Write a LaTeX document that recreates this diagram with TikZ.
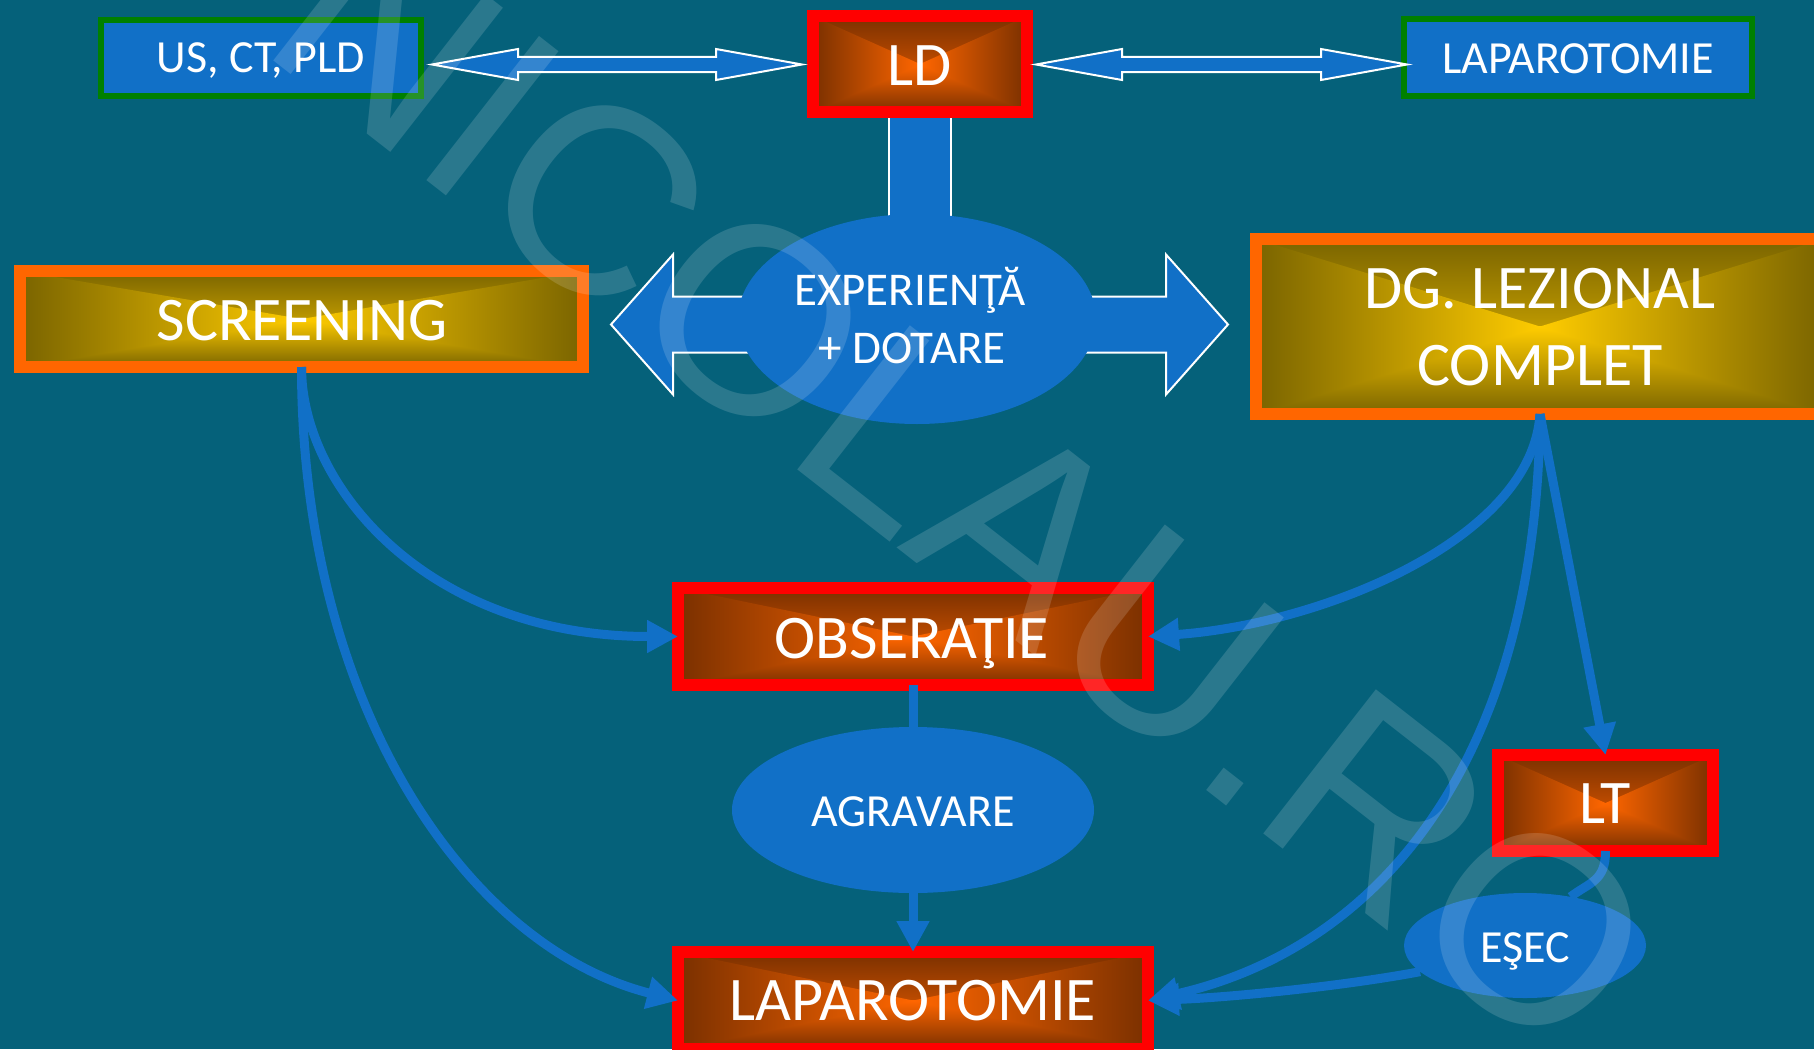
\documentclass[tikz,border=0pt]{standalone}
\usepackage{fontspec}
\setmainfont{Carlito}
\newfontfamily\wmfont{Liberation Sans}
\usetikzlibrary{calc,arrows.meta,shapes.geometric}
\pgfdeclarelayer{bg}\pgfdeclarelayer{back}\pgfdeclarelayer{front}
\pgfsetlayers{bg,back,main,front}
\definecolor{bgteal}{RGB}{5,97,122}
\definecolor{sblue}{RGB}{17,112,199}
\definecolor{gborder}{RGB}{0,128,0}
\definecolor{oborder}{RGB}{255,102,0}
\definecolor{brownout}{RGB}{122,48,0}
\definecolor{orangein}{RGB}{255,102,0}
\definecolor{oliveout}{RGB}{122,100,0}
\definecolor{yellowin}{RGB}{255,204,0}
\newcommand\lrarrow[5]{%
  \draw[outl] (#1) -- ($(#1)+(#3,-#4)$) -- ($(#1)+(#3,-#5)$) -- ($(#2)+(-#3,-#5)$)
    -- ($(#2)+(-#3,-#4)$) -- (#2) -- ($(#2)+(-#3,#4)$) -- ($(#2)+(-#3,#5)$)
    -- ($(#1)+(#3,#5)$) -- ($(#1)+(#3,#4)$) -- cycle;}
\begin{document}
\begin{tikzpicture}[x=1pt,y=-1pt,
  rgrad/.style 2 args={fill=#2, path picture={
    \shade[top color=#1,bottom color=#2] (path picture bounding box.north west) rectangle (path picture bounding box.east);
    \shade[top color=#2,bottom color=#1] (path picture bounding box.west) rectangle (path picture bounding box.south east);
    \shade[left color=#1,right color=#2] (path picture bounding box.north west) -- (path picture bounding box.south west) -- (path picture bounding box.center) -- cycle;
    \shade[left color=#2,right color=#1] (path picture bounding box.north east) -- (path picture bounding box.south east) -- (path picture bounding box.center) -- cycle;
  }},
  box/.style={rectangle, inner sep=0pt, outer sep=0pt},
  bluebox/.style={box, fill=sblue, draw=gborder, line width=6pt},
  redbox/.style={box, draw=red, line width=12pt, rgrad={brownout}{orangein}},
  ylwbox/.style={box, draw=oborder, line width=12pt, rgrad={oliveout}{yellowin}},
  oval/.style={ellipse, fill=sblue, inner sep=0pt, outer sep=0pt},
  big/.style={text=white, font=\fontsize{62}{70}\selectfont, inner sep=0pt, anchor=base},
  small/.style={text=white, font=\fontsize{46}{52}\selectfont, inner sep=0pt, anchor=base},
  conn/.style={draw=sblue, line width=9pt},
  arr/.style={conn, -{Triangle[length=31pt,width=31pt]}},
  outl/.style={draw=white, line width=2pt, fill=sblue, line join=miter},
  wm/.style={text=white, text opacity=0.15, font=\fontsize{266}{266}\wmfont, inner sep=0pt, anchor=base west, rotate=-38}
]
\useasboundingbox (0,0) rectangle (1814,1049);
\begin{pgfonlayer}{bg}
  \fill[bgteal] (0,0) rectangle (1814,1049);
\end{pgfonlayer}

% boxes
\node[bluebox, minimum width=320, minimum height=76] (uspld) at (261,58) {};
\node[redbox, minimum width=214, minimum height=96] (ld) at (920,64) {};
\node[bluebox, minimum width=348, minimum height=77] (laptop) at (1578,57.5) {};
\node[ylwbox, minimum width=563, minimum height=96] (screening) at (301.5,319) {};
\node[ylwbox, minimum width=568, minimum height=175] (dg) at (1540,326.5) {};
\node[redbox, minimum width=470, minimum height=97] (obs) at (913,636.5) {};
\node[redbox, minimum width=470, minimum height=97] (lap) at (913,1000.5) {};
\node[redbox, minimum width=215, minimum height=96] (lt) at (1605.5,803) {};
% ellipses
\node[oval, minimum width=358, minimum height=210] (exp) at (917,319) {};
\node[oval, minimum width=362, minimum height=166] (agr) at (913,810) {};
\node[oval, minimum width=242, minimum height=105] (esec) at (1525,945.5) {};

% stem and big double arrow behind the ellipse
\begin{pgfonlayer}{back}
  \coordinate (stl) at ($(ld.south)+(-31,6)$);
  \coordinate (str) at ($(ld.south)+(31,6)$);
  \fill[sblue] (stl) rectangle ($(str)+(0,140)$);
  \draw[white, line width=2pt] (stl) -- ($(stl)+(0,140)$) (str) -- ($(str)+(0,140)$);
  \coordinate (bl) at (611,324.5);
  \coordinate (br) at (1228,324.5);
  \lrarrow{bl}{br}{62}{70}{28}
\end{pgfonlayer}

% top double arrows
\coordinate (a1l) at ($(uspld.east |- ld.center)+(11,0.5)$);
\coordinate (a1r) at ($(ld.west)+(-11,0.5)$);
\lrarrow{a1l}{a1r}{86}{15.5}{7.5}
\coordinate (a2l) at ($(ld.east)+(9,0.5)$);
\coordinate (a2r) at ($(laptop.west |- ld.center)+(3,0.5)$);
\lrarrow{a2l}{a2r}{86}{15.5}{7.5}

% texts
\node[small] (t1) at (261,73) {US, CT, PLD};
\node[big] (t2) at (920,85) {LD};
\node[small] (t3) at (1578,74) {LAPAROTOMIE};
\node[big] (t4) at (302,340) {SCREENING};
\node[big] (t5) at (1540,308) {DG. LEZIONAL};
\node[big] (t6) at (1540,385) {COMPLET};
\node[small, font=\fontsize{47}{52}\selectfont] (t7) at (910,305) {EXPERIENŢĂ};
\node[small, font=\fontsize{47}{52}\selectfont] (t8) at (912,363) {+ DOTARE};
\node[big] (t9) at (912,658) {OBSERAŢIE};
\node[small] (t10) at (913,826) {AGRAVARE};
\node[big] (t11) at (913,1020) {LAPAROTOMIE};
\node[big] (t12) at (1605,823) {LT};
\node[small] (t13) at (1525,962) {EŞEC};

% connectors
\draw[arr] (screening.south) .. controls ($(screening.south)+(0,120)$) and ($(obs.west)+(-250,0)$) .. (obs.west);
\draw[arr] (screening.south) .. controls ($(screening.south)+(0,333)$) and ($(lap.west)+(-215,-55)$) .. (lap.west);
\draw[arr] (dg.south) .. controls ($(dg.south)+(-8,126)$) and ($(obs.east)+(172,-12)$) .. (obs.east);
\draw[arr] (dg.south) .. controls ($(dg.south)+(-3,336)$) and ($(lap.east)+(240,-55)$) .. (lap.east);
\draw[arr] (dg.south) -- (lt.north);
\draw[conn] (lt.south) .. controls +(0,30) and +(20,-15) .. (esec.47);
\draw[arr] (esec.194) .. controls +(-80,15) and +(80,-3) .. (lap.east);
\draw[conn] (obs.south) -- (agr.north);
\draw[arr] (agr.south) -- (lap.north);

% watermark
\begin{pgfonlayer}{front}
  \node[wm] (wmark) at (256,47) {NICOLAU.RO};
\end{pgfonlayer}
\end{tikzpicture}
\end{document}
